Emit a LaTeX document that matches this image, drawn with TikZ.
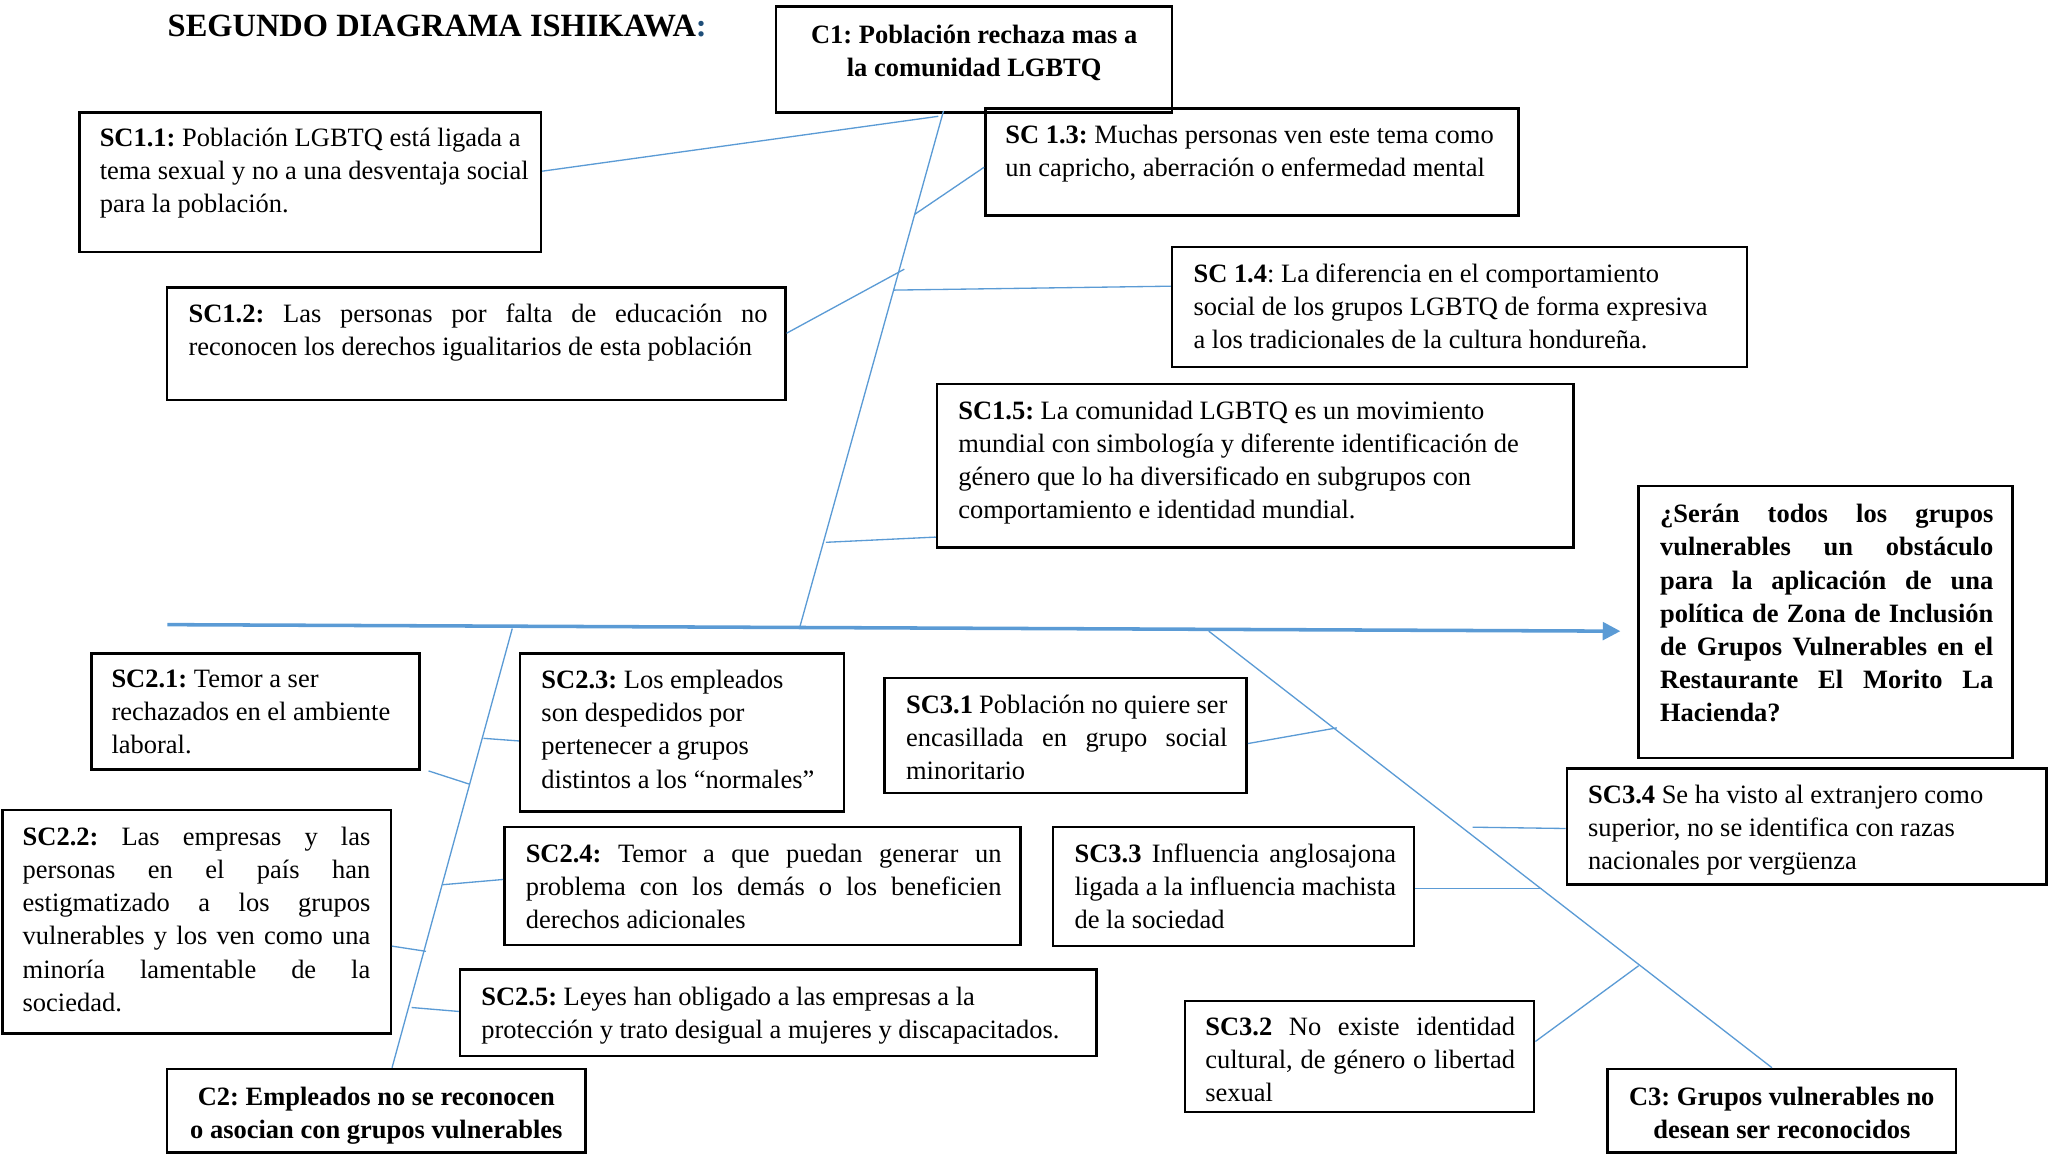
\documentclass[tikz,border=0pt]{standalone}
\usepackage{fontspec}
\setmainfont{Liberation Serif}
\usetikzlibrary{fit,arrows.meta,calc}
\definecolor{bone}{HTML}{5B9BD5}
\definecolor{titleblue}{HTML}{1F4E79}
\frenchspacing
\newcommand\jl[2]{\makebox[#1][s]{\spaceskip=0pt\xspaceskip=0pt #2}}
\begin{document}
\begin{tikzpicture}[x=0.592pt,y=-0.592pt,
 frame/.style={draw=black, line width=1.1pt, inner sep=0pt},
 txt/.style={anchor=north west, inner sep=0pt, align=justify, font=\fontsize{12}{15}\selectfont},
 ctxt/.style={anchor=north, inner sep=0pt, align=center, font=\fontsize{12}{15}\selectfont\bfseries},
 bonel/.style={draw=bone, line width=0.6pt},
 spinel/.style={draw=bone, line width=1.6pt, -{Triangle[length=8pt,width=8pt]}}]
\useasboundingbox (0,0) rectangle (1568,887);

% title
\node[anchor=base west, inner sep=0pt, font=\fontsize{14.7}{17}\selectfont\bfseries] (title) at (128,28) {SEGUNDO DIAGRAMA ISHIKAWA\textcolor{titleblue}{:}};

% frames
\node[frame, fit={(594,5)(897,86)}] (c1) {};
\node[frame, fit={(61,86)(414,193)}] (sc11) {};
\node[frame, fit={(754,83)(1162,165)}] (sc13) {};
\node[frame, fit={(128,220)(601,306)}] (sc12) {};
\node[frame, fit={(897,189)(1337,281)}] (sc14) {};
\node[frame, fit={(717,294)(1204,419)}] (sc15) {};
\node[frame, fit={(1254,372)(1540,580)}] (q) {};
\node[frame, fit={(70,500)(321,589)}] (sc21) {};
\node[frame, fit={(398,500)(646,621)}] (sc23) {};
\node[frame, fit={(677,519)(954,607)}] (sc31) {};
\node[frame, fit={(1199,588)(1566,677)}] (sc34) {};
\node[frame, fit={(2,620)(299,791)}] (sc22) {};
\node[frame, fit={(386,633)(781,723)}] (sc24) {};
\node[frame, fit={(806,633)(1082,724)}] (sc33) {};
\node[frame, fit={(352,742)(839,808)}] (sc25) {};
\node[frame, fit={(907,766)(1174,851)}] (sc32) {};
\node[frame, fit={(128,818)(448,882)}] (c2) {};
\node[frame, fit={(1230,818)(1497,882)}] (c3) {};

% texts
\node[ctxt] (c1t) at (745.5,15) {\strut C1: Población rechaza mas a\\ la comunidad LGBTQ};
\node[txt, text width=198pt] (sc11t) at (76,94) {\strut\textbf{SC1.1:} Población LGBTQ está ligada a\\ tema sexual y no a una desventaja social\\ para la población.};
\node[txt, text width=231pt] (sc13t) at (769,92) {\strut\textbf{SC 1.3:} Muchas personas ven este tema como\\ un capricho, aberración o enfermedad mental};
\node[txt, text width=270pt] (sc12t) at (144,229) {\strut\jl{262.3pt}{\textbf{SC1.2:} Las personas por falta de educación no}\\ reconocen los derechos igualitarios de esta población};
\node[txt, text width=250pt] (sc14t) at (913,198) {\strut\textbf{SC 1.4}: La diferencia en el comportamiento\\ social de los grupos LGBTQ de forma expresiva\\ a los tradicionales de la cultura hondureña.};
\node[txt, text width=278pt] (sc15t) at (733,303) {\strut\textbf{SC1.5:} La comunidad LGBTQ es un movimiento\\ mundial con simbología y diferente identificación de\\ género que lo ha diversificado en subgrupos con\\ comportamiento e identidad mundial.};
\node[txt, text width=160pt, font=\fontsize{12}{15}\selectfont\bfseries] (qt) at (1270,382) {\strut\jl{151pt}{¿Serán todos los grupos}\\ \jl{151pt}{vulnerables un obstáculo}\\ \jl{151pt}{para la aplicación de una}\\ \jl{151pt}{política de Zona de Inclusión}\\ \jl{151pt}{de Grupos Vulnerables en el}\\ \jl{151pt}{Restaurante El Morito La}\\ Hacienda?};
\node[txt, text width=138pt] (sc21t) at (85,508) {\strut\textbf{SC2.1:} Temor a ser\\ rechazados en el ambiente\\ laboral.};
\node[txt, text width=136pt] (sc23t) at (414,509) {\strut\textbf{SC2.3:} Los empleados\\ son despedidos por\\ pertenecer a grupos\\ distintos a los “normales”};
\node[txt, text width=150pt] (sc31t) at (693,528) {\strut\jl{145.6pt}{\textbf{SC3.1} Población no quiere ser}\\ \jl{145.6pt}{encasillada en grupo social}\\ minoritario};
\node[txt, text width=207pt] (sc34t) at (1215,597) {\strut\textbf{SC3.4} Se ha visto al extranjero como\\ superior, no se identifica con razas\\ nacionales por vergüenza};
\node[txt, text width=165pt] (sc22t) at (17,629) {\strut\jl{157.5pt}{\textbf{SC2.2:} Las empresas y las}\\ \jl{157.5pt}{personas en el país han}\\ \jl{157.5pt}{estigmatizado a los grupos}\\ \jl{157.5pt}{vulnerables y los ven como una}\\ \jl{157.5pt}{minoría lamentable de la}\\ sociedad.};
\node[txt, text width=225pt] (sc24t) at (402,642) {\strut\jl{215.5pt}{\textbf{SC2.4:} Temor a que puedan generar un}\\ \jl{215.5pt}{problema con los demás o los beneficien}\\ derechos adicionales};
\node[txt, text width=160pt] (sc33t) at (822,642) {\strut\jl{145.6pt}{\textbf{SC3.3} Influencia anglosajona}\\ \jl{145.6pt}{ligada a la influencia machista}\\ de la sociedad};
\node[txt, text width=278pt] (sc25t) at (368,751) {\strut\textbf{SC2.5:} Leyes han obligado a las empresas a la\\ protección y trato desigual a mujeres y discapacitados.};
\node[txt, text width=150pt] (sc32t) at (922,774) {\strut\jl{140.3pt}{\textbf{SC3.2} No existe identidad}\\ \jl{140.3pt}{cultural, de género o libertad}\\ sexual};
\node[ctxt] (c2t) at (288,828) {\strut C2: Empleados no se reconocen\\ o asocian con grupos vulnerables};
\node[ctxt] (c3t) at (1363.5,828) {\strut C3: Grupos vulnerables no\\ desean ser reconocidos};

% spine
\coordinate (sp0) at (128,478);
\coordinate (sp1) at (1240,483);
\draw[spinel] (sp0) -- (sp1);

% bones
\coordinate (b1s) at ($(c1.south)+(-23.5,-2)$);
\coordinate (b1e) at (612,480);
\coordinate (b2s) at (392,481);
\coordinate (b3s) at (925,483);
\draw[bonel] (b1s) -- (b1e);
\draw[bonel] (b2s) -- ($(c2.north)+(12,0)$);
\draw[bonel] (b3s) -- ($(c3.north)+(-7.5,0)$);

% bone points
\coordinate (p11) at (718,89);
\coordinate (p13) at (700,164);
\coordinate (p12) at (692,206);
\coordinate (p14) at (684,222);
\coordinate (p15) at (632,415);
\coordinate (p21) at (359,600);
\coordinate (p23) at (370,565);
\coordinate (p24) at (339,677);
\coordinate (p22) at (326,728);
\coordinate (p25) at (315,771);
\coordinate (p31) at (1023,557);
\coordinate (p34) at (1127,633);
\coordinate (p33) at (1180,680);
\coordinate (p32) at (1254,739);

% sub-cause connectors
\draw[bonel] ($(sc11.east)+(0,-8.5)$) -- (p11);
\draw[bonel] ($(sc13.west)+(0,4)$) -- (p13);
\draw[bonel] ($(sc12.east)+(0,-8)$) -- (p12);
\draw[bonel] ($(sc14.west)+(0,-16)$) -- (p14);
\draw[bonel] ($(sc15.west)+(0,54.5)$) -- (p15);
\draw[bonel] ($(sc21.south east)+(6,0)$) -- (p21);
\draw[bonel] ($(sc23.west)+(0,6.5)$) -- (p23);
\draw[bonel] ($(sc24.west)+(0,-5)$) -- (p24);
\draw[bonel] ($(sc22.east)+(0,18.5)$) -- (p22);
\draw[bonel] ($(sc25.west)+(0,-1)$) -- (p25);
\draw[bonel] ($(sc31.east)+(0,6)$) -- (p31);
\draw[bonel] ($(sc34.west)+(0,1.5)$) -- (p34);
\draw[bonel] ($(sc33.east)+(0,1.5)$) -- (p33);
\draw[bonel] ($(sc32.east)+(0,-11.5)$) -- (p32);
\end{tikzpicture}
\end{document}
